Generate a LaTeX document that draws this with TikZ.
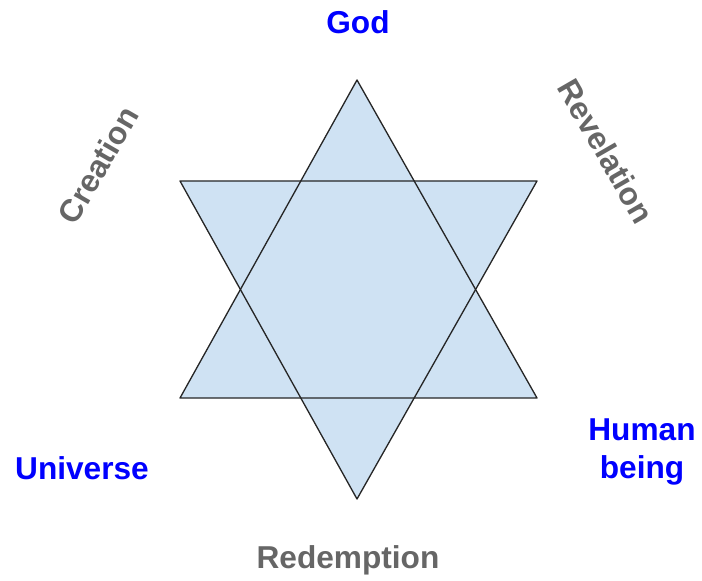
\documentclass[tikz,border=0pt]{standalone}
\usepackage{fontspec}
\setmainfont{Liberation Sans}
\definecolor{starblue}{HTML}{CFE2F3}
\definecolor{labelblue}{HTML}{0000FF}
\definecolor{labelgray}{HTML}{666666}
\begin{document}
\begin{tikzpicture}[every node/.style={font=\fontsize{18}{21.5}\selectfont\bfseries},
  pole/.style={text=labelblue,align=center},
  relation/.style={text=labelgray}]
\useasboundingbox (0,0) rectangle (14.04,11.6);
% star of two triangles
\coordinate (up top) at (7.14,10.0);
\coordinate (up left) at (3.6,3.64);
\coordinate (up right) at (10.74,3.64);
\coordinate (down left) at (3.6,7.98);
\coordinate (down right) at (10.74,7.98);
\coordinate (down bottom) at (7.14,1.62);
\fill[starblue] (up top) -- (up left) -- (up right) -- cycle;
\fill[starblue] (down left) -- (down right) -- (down bottom) -- cycle;
\draw[black!85,line width=0.75pt,line join=round] (up top) -- (up left) -- (up right) -- cycle;
\draw[black!85,line width=0.75pt,line join=round] (down left) -- (down right) -- (down bottom) -- cycle;
% poles
\node[pole] (god) at (7.16,11.16) {God};
\node[pole] (universe) at (1.64,2.24) {Universe};
\node[pole] (human) at (12.84,2.56) {Human\\being};
% relations
\node[relation,rotate=60] (creation) at (1.96,8.3) {Creation};
\node[relation,rotate=-60] (revelation) at (12.12,8.58) {Revelation};
\node[relation] (redemption) at (6.96,0.4) {Redemption};
\end{tikzpicture}
\end{document}
